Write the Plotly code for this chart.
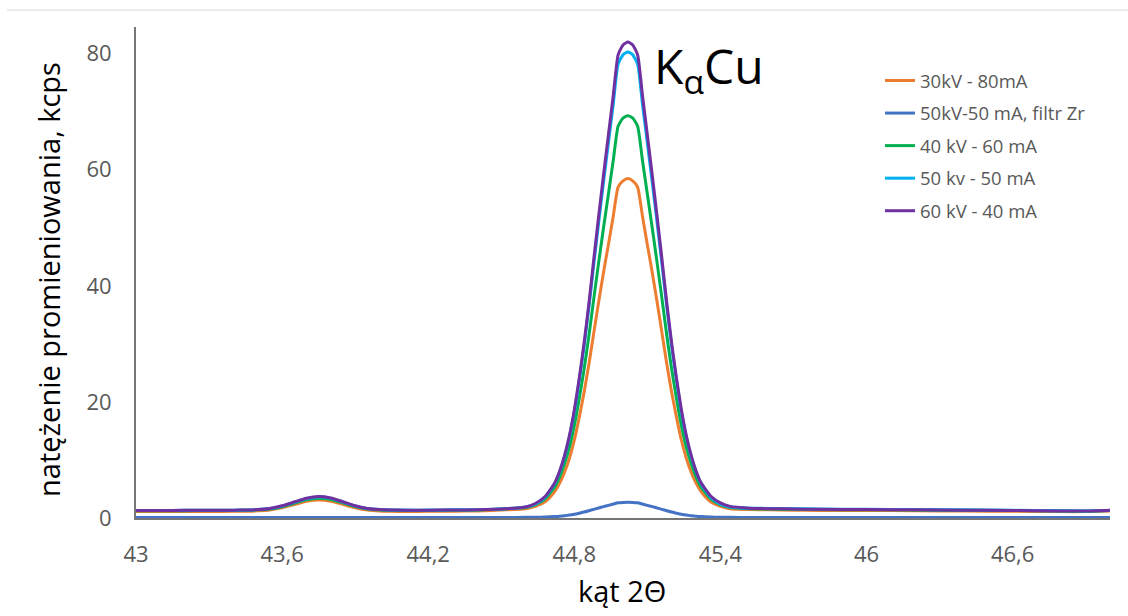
import plotly.graph_objects as go

# 2theta positions (deg)
two_theta = [43.00, 43.10, 43.20, 43.30, 43.40, 43.45, 43.50, 43.55, 43.60, 43.65, 43.70,
             43.75, 43.80, 43.85, 43.90, 43.95, 44.00, 44.05, 44.10, 44.20, 44.30, 44.40,
             44.52, 44.60, 44.64, 44.68, 44.72, 44.74, 44.76, 44.78, 44.80, 44.82, 44.84,
             44.86, 44.88, 44.90, 44.92, 44.94, 44.96, 44.98, 45.00,
             45.02,
             45.04, 45.06, 45.08, 45.10, 45.12, 45.14, 45.16, 45.18, 45.20, 45.22, 45.24,
             45.26, 45.28, 45.30, 45.32, 45.36, 45.40, 45.44, 45.52,
             45.60, 45.70, 45.80, 46.00, 46.20, 46.40, 46.60, 46.80, 46.90, 47.00]

kv30_ma80 = [1.10, 1.10, 1.12, 1.13, 1.15, 1.17, 1.23, 1.37, 1.75, 2.30, 2.87,
             3.10, 2.90, 2.35, 1.77, 1.37, 1.20, 1.15, 1.13, 1.15, 1.18, 1.22,
             1.4, 1.6, 2.0, 2.8, 4.6, 6.0, 7.9, 10.3, 13.4, 17.3, 21.6,
             26.5, 31.9, 37.2, 42.3, 47.1, 52.0, 57.0, 58.1,
             58.5,
             58.1, 57.0, 52.0, 47.1, 42.3, 37.2, 31.9, 26.5, 21.6, 17.3, 13.4,
             10.3, 7.9, 6.0, 4.6, 2.8, 2.0, 1.6, 1.45,
             1.4, 1.35, 1.3, 1.3, 1.25, 1.2, 1.15, 1.1, 1.1, 1.2]

kv50_ma50_zr = [0.10, 0.10, 0.10, 0.10, 0.10, 0.10, 0.10, 0.10, 0.10, 0.10, 0.10,
                0.10, 0.10, 0.10, 0.10, 0.10, 0.10, 0.10, 0.10, 0.10, 0.10, 0.10,
                0.10, 0.11, 0.13, 0.17, 0.25, 0.31, 0.40, 0.51, 0.65, 0.83, 1.02,
                1.25, 1.49, 1.73, 1.96, 2.18, 2.40, 2.63, 2.69,
                2.70,
                2.69, 2.63, 2.40, 2.18, 1.96, 1.73, 1.49, 1.25, 1.02, 0.83, 0.65,
                0.51, 0.40, 0.31, 0.25, 0.17, 0.13, 0.11, 0.10,
                0.10, 0.10, 0.10, 0.10, 0.10, 0.10, 0.10, 0.10, 0.10, 0.10]

kv40_ma60 = [1.25, 1.25, 1.27, 1.28, 1.30, 1.33, 1.40, 1.55, 1.95, 2.55, 3.15,
             3.40, 3.18, 2.60, 1.97, 1.55, 1.38, 1.32, 1.30, 1.30, 1.33, 1.38,
             1.6, 1.8, 2.3, 3.3, 5.4, 7.1, 9.4, 12.2, 15.9, 20.5, 25.6,
             31.4, 37.8, 44.0, 50.0, 55.8, 61.6, 67.5, 68.9,
             69.3,
             68.9, 67.5, 61.6, 55.8, 50.0, 44.0, 37.8, 31.4, 25.6, 20.5, 15.9,
             12.2, 9.4, 7.1, 5.4, 3.3, 2.3, 1.8, 1.6,
             1.55, 1.5, 1.45, 1.42, 1.38, 1.33, 1.28, 1.2, 1.18, 1.3]

kv50_ma50 = [1.30, 1.30, 1.32, 1.33, 1.35, 1.38, 1.45, 1.63, 2.05, 2.70, 3.32,
             3.60, 3.38, 2.75, 2.07, 1.63, 1.45, 1.38, 1.36, 1.36, 1.40, 1.44,
             1.6, 1.9, 2.4, 3.6, 6.0, 8.0, 10.6, 14.0, 18.2, 23.6, 29.5,
             36.3, 43.7, 50.9, 57.9, 64.6, 71.3, 78.2, 79.8,
             80.3,
             79.8, 78.2, 71.3, 64.6, 57.9, 50.9, 43.7, 36.3, 29.5, 23.6, 18.2,
             14.0, 10.6, 8.0, 6.0, 3.6, 2.4, 1.9, 1.7,
             1.65, 1.6, 1.55, 1.5, 1.45, 1.4, 1.32, 1.25, 1.22, 1.3]

kv60_ma40 = [1.30, 1.30, 1.32, 1.33, 1.35, 1.38, 1.45, 1.65, 2.10, 2.75, 3.40,
             3.70, 3.45, 2.80, 2.10, 1.65, 1.45, 1.38, 1.35, 1.35, 1.38, 1.42,
             1.6, 1.9, 2.5, 3.7, 6.1, 8.1, 10.8, 14.2, 18.6, 24.0, 30.1,
             37.0, 44.6, 52.0, 59.1, 66.0, 72.8, 79.8, 81.5,
             82.0,
             81.5, 79.8, 72.8, 66.0, 59.1, 52.0, 44.6, 37.0, 30.1, 24.0, 18.6,
             14.2, 10.8, 8.1, 6.1, 3.8, 2.6, 2.0, 1.7,
             1.6, 1.55, 1.5, 1.45, 1.4, 1.35, 1.3, 1.22, 1.2, 1.35]

series_names = ["30kV - 80mA", "50kV-50 mA, filtr Zr", "40 kV - 60 mA",
                "50 kv - 50 mA", "60 kV - 40 mA"]
series_values = [kv30_ma80, kv50_ma50_zr, kv40_ma60, kv50_ma50, kv60_ma40]
series_colors = ["#ED7D31", "#4472C4", "#00B050", "#00B0F0", "#7030A0"]

x_tick_vals = [43, 43.6, 44.2, 44.8, 45.4, 46, 46.6]
x_tick_text = ["43", "43,6", "44,2", "44,8", "45,4", "46", "46,6"]
y_tick_vals = [0, 20, 40, 60, 80]

for v in series_values:
    assert len(v) == len(two_theta)

FONT = "Open Sans"
W, H = 1128, 616
L, R, T, B = 136, 18, 27, 98
PW, PH = W - L - R, H - T - B


def px(xpix):
    return (xpix - L) / PW


def py(ypix):
    return (H - B - ypix) / PH


fig = go.Figure()
for name, vals, col in zip(series_names, series_values, series_colors):
    fig.add_trace(go.Scatter(
        x=two_theta, y=vals, mode="lines", name=name, legendgroup=name,
        line=dict(color=col, width=3, shape="spline", smoothing=0.55),
    ))

fig.update_layout(
    width=W, height=H,
    margin=dict(l=L, r=R, t=T, b=B),
    paper_bgcolor="white", plot_bgcolor="white",
    font=dict(family=FONT, color="#595959"),
    showlegend=True,
    legend=dict(
        x=px(880), y=py(62), xanchor="left", yanchor="top",
        font=dict(family=FONT, size=18.5, color="#595959"),
        bgcolor="rgba(0,0,0,0)", tracegroupgap=5.5,
    ),
    xaxis=dict(
        range=[43, 47], tickvals=x_tick_vals, ticktext=x_tick_text,
        showline=True, linecolor="#767676", linewidth=2,
        showgrid=False, zeroline=False, ticks="",
        tickfont=dict(family=FONT, size=22, color="#595959"),
        ticklabelstandoff=16,
    ),
    yaxis=dict(
        range=[0, 84.6], tickvals=y_tick_vals,
        showline=True, linecolor="#767676", linewidth=2,
        showgrid=False, zeroline=False, ticks="",
        tickfont=dict(family=FONT, size=22, color="#595959"),
        ticklabelstandoff=18,
    ),
    annotations=[
        dict(text="natężenie promieniowania, kcps", textangle=-90,
             xref="paper", yref="paper", x=px(48), y=py(280),
             xanchor="center", yanchor="middle", showarrow=False,
             font=dict(family=FONT, size=29, color="#000000")),
        dict(text="kąt 2Θ", xref="paper", yref="paper", x=px(622), y=py(590),
             xanchor="center", yanchor="middle", showarrow=False,
             font=dict(family=FONT, size=29, color="#000000")),
        dict(text="K<sub>α</sub>Cu", xref="paper", yref="paper", x=px(652), y=py(68),
             xanchor="left", yanchor="middle", showarrow=False,
             font=dict(family=FONT, size=48, color="#000000")),
    ],
    shapes=[
        dict(type="line", xref="paper", yref="paper",
             x0=px(7), x1=px(1128), y0=py(10), y1=py(10),
             line=dict(color="#D9D9D9", width=1)),
    ],
)

fig.write_html("out.html")
